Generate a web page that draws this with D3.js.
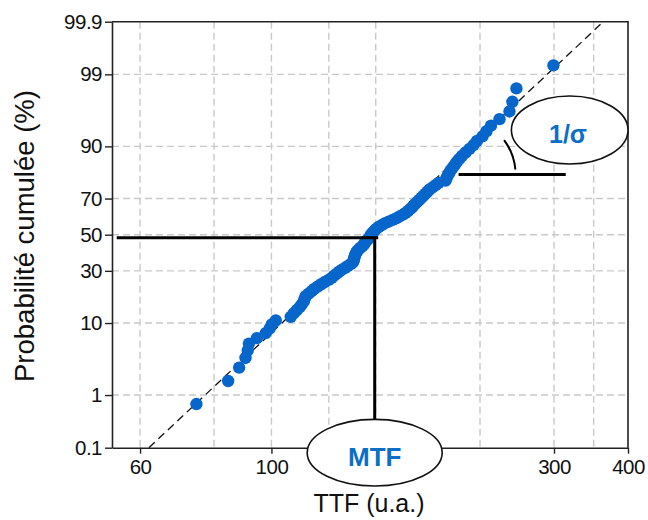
<!DOCTYPE html>
<html><head><meta charset="utf-8">
<script src="https://cdn.jsdelivr.net/npm/d3@7"></script>
<style>
html,body{margin:0;padding:0;background:#fff;}
svg{display:block;font-family:"Liberation Sans",Arial,Helvetica,sans-serif;}
</style></head>
<body><svg id="c" width="648" height="520"></svg>
<script>
// ---- data ----
const ttf = [74.7,84.5,88.2,90.4,91.2,91.6,94.5,97.8,99.3,100.1,
101.7,107.8,109.0,110.3,111.6,112.5,113.4,113.8,114.2,115.6,
116.9,118.1,119.7,121.3,123.0,124.9,126.4,127.6,128.9,130.1,
131.6,133.2,134.7,136.3,137.4,137.7,137.9,138.2,138.5,139.0,
139.5,140.4,141.4,142.6,143.4,143.9,144.8,145.6,146.5,147.0,
147.6,148.5,149.4,150.5,151.7,153.5,155.3,157.7,160.2,162.7,
164.6,166.8,168.5,170.1,171.4,172.8,173.8,175.1,176.5,177.9,
179.3,180.7,182.1,183.5,184.9,187.1,189.3,191.5,196.8,197.5,
198.3,199.5,200.6,202.2,203.8,205.4,207.4,209.8,212.7,216.0,
219.4,222.4,227.2,230.7,234.8,242.7,252.3,255.2,259.2,299.3];
const cumProb = [0.70,1.69,2.69,3.69,4.68,5.68,6.67,7.67,8.67,9.66,
10.66,11.65,12.65,13.65,14.64,15.64,16.63,17.63,18.63,19.62,
20.62,21.61,22.61,23.61,24.60,25.60,26.59,27.59,28.59,29.58,
30.58,31.57,32.57,33.57,34.56,35.56,36.55,37.55,38.55,39.54,
40.54,41.53,42.53,43.53,44.52,45.52,46.51,47.51,48.51,49.50,
50.50,51.49,52.49,53.49,54.48,55.48,56.47,57.47,58.47,59.46,
60.46,61.45,62.45,63.45,64.44,65.44,66.43,67.43,68.43,69.42,
70.42,71.41,72.41,73.41,74.40,75.40,76.39,77.39,78.39,79.38,
80.38,81.37,82.37,83.37,84.36,85.36,86.35,87.35,88.35,89.34,
90.34,91.33,92.33,93.33,94.32,95.32,96.31,97.31,98.31,99.30];
const fitTTF = [62.1, 363.4];
const fitProb = [0.1, 99.9];
const xTickValues = [60, 100, 300, 400];
const xGridValues = [60, 80, 100, 125, 150, 225, 300, 350];
const yTickValues = [0.1, 1, 10, 30, 50, 70, 90, 99, 99.9];
const yTickLabels = ["0.1", "1", "10", "30", "50", "70", "90", "99", "99.9"];
const yGridValues = [1, 10, 30, 50, 70, 90, 99];
const mtfTTF = 149.4, mtfProb = 48.2, mtfLineStartTTF = 54.8;
const slopeProb = 80.9, slopeTTF = [207, 314];
const xDomain = [53.8, 400];
const yDomainProb = [0.1, 99.9];

// ---- probit ----
function probit(p){
  const a=[-3.969683028665376e+01,2.209460984245205e+02,-2.759285104469687e+02,1.383577518672690e+02,-3.066479806614716e+01,2.506628277459239e+00];
  const b=[-5.447609879822406e+01,1.615858368580409e+02,-1.556989798598866e+02,6.680131188771972e+01,-1.328068155288572e+01];
  const c=[-7.784894002430293e-03,-3.223964580411365e-01,-2.400758276161862e+00,-2.549732539343734e+00,4.374664141464968e+00,2.938163982698783e+00];
  const d=[7.784695709041462e-03,3.224671290700398e-01,2.445134137142996e+00,3.754408661907416e+00];
  const pl=0.02425, ph=1-pl; let q,r;
  if(p<pl){q=Math.sqrt(-2*Math.log(p));return (((((c[0]*q+c[1])*q+c[2])*q+c[3])*q+c[4])*q+c[5])/((((d[0]*q+d[1])*q+d[2])*q+d[3])*q+1);}
  if(p<=ph){q=p-0.5;r=q*q;return (((((a[0]*r+a[1])*r+a[2])*r+a[3])*r+a[4])*r+a[5])*q/(((((b[0]*r+b[1])*r+b[2])*r+b[3])*r+b[4])*r+1);}
  q=Math.sqrt(-2*Math.log(1-p));return -(((((c[0]*q+c[1])*q+c[2])*q+c[3])*q+c[4])*q+c[5])/((((d[0]*q+d[1])*q+d[2])*q+d[3])*q+1);
}

const L=112, R=628, T=21.7, B=447.7;
const svg = d3.select("#c");
const x = d3.scaleLog().domain(xDomain).range([L, R]);
const y = d3.scaleLinear().domain(yDomainProb.map(p=>probit(p/100))).range([B, T]);
const yP = p => y(probit(p/100));
const blue = "#0766cb";

// grid
const grid = svg.append("g").attr("stroke","#c9c9c9").attr("stroke-width",1.4).attr("stroke-dasharray","7,4").attr("fill","none");
grid.selectAll("line.v").data(xGridValues).join("line").attr("class","v")
  .attr("x1",d=>x(d)).attr("x2",d=>x(d)).attr("y1",T).attr("y2",B);
grid.selectAll("line.h").data(yGridValues).join("line").attr("class","h")
  .attr("x1",L).attr("x2",R).attr("y1",d=>yP(d)).attr("y2",d=>yP(d));

// fit line
svg.append("line")
  .attr("x1",x(fitTTF[0])).attr("y1",yP(fitProb[0]))
  .attr("x2",x(fitTTF[1])).attr("y2",yP(fitProb[1]))
  .attr("stroke","#111").attr("stroke-width",1.3).attr("stroke-dasharray","8,5");

// points
svg.append("g").selectAll("circle").data(ttf).join("circle")
  .attr("cx",d=>x(d)).attr("cy",(d,i)=>yP(cumProb[i])).attr("r",6.2).attr("fill",blue);

// MTF lines
svg.append("line").attr("x1",x(mtfLineStartTTF)).attr("x2",x(mtfTTF)+3.5)
  .attr("y1",yP(mtfProb)).attr("y2",yP(mtfProb)).attr("stroke","#000").attr("stroke-width",3);

// axes
const yAxis = d3.axisLeft(y).tickValues(yTickValues.map(p=>probit(p/100)))
  .tickFormat((d,i)=>yTickLabels[i]).tickSize(7).tickSizeOuter(0);
const gy = svg.append("g").attr("transform",`translate(${L},0)`).call(yAxis);
const xAxis = d3.axisBottom(x).tickValues(xTickValues).tickFormat(d3.format("d")).tickSize(6).tickSizeOuter(0);
const gx = svg.append("g").attr("transform",`translate(0,${B})`).call(xAxis);
[gy,gx].forEach(g=>{
  g.select(".domain").attr("stroke","#222").attr("stroke-width",1.6);
  g.selectAll(".tick line").attr("stroke","#222").attr("stroke-width",1.4);
  g.selectAll(".tick text").attr("fill","#111").style("font-size","20.5px")
   .style("font-family","'Liberation Sans',Arial,sans-serif").style("letter-spacing","-0.5px");
});
gy.selectAll(".tick text").attr("x",-10);
gx.selectAll(".tick text").attr("y",12);
// top/right border
svg.append("path").attr("d",`M${L},${T}H${R}V${B}`).attr("fill","none").attr("stroke","#222").attr("stroke-width",1.6);

// vertical MTF line
const mtfCx = x(mtfTTF), mtfCy = 452.7, mtfRx = 67.5, mtfRy = 33.3;
svg.append("line").attr("x1",mtfCx).attr("x2",mtfCx).attr("y1",yP(mtfProb)).attr("y2",mtfCy-mtfRy)
  .attr("stroke","#000").attr("stroke-width",3);

// slope annotation
const sx0 = x(slopeTTF[0]), sy0 = yP(slopeProb);
svg.append("line").attr("x1",sx0).attr("x2",x(slopeTTF[1])).attr("y1",sy0).attr("y2",sy0)
  .attr("stroke","#000").attr("stroke-width",3);
const rA = 57, a0 = -37*Math.PI/180, a1 = -5*Math.PI/180;
svg.append("path")
  .attr("d",`M${sx0+rA*Math.cos(a0)},${sy0+rA*Math.sin(a0)} A${rA},${rA} 0 0 1 ${sx0+rA*Math.cos(a1)},${sy0+rA*Math.sin(a1)}`)
  .attr("fill","none").attr("stroke","#000").attr("stroke-width",2);

// ellipses
svg.append("ellipse").attr("cx",mtfCx).attr("cy",mtfCy).attr("rx",mtfRx).attr("ry",mtfRy)
  .attr("fill","#fff").attr("stroke","#111").attr("stroke-width",1.6);
svg.append("text").attr("x",mtfCx).attr("y",466).attr("text-anchor","middle")
  .attr("fill","#0b6fc6").style("font-size","26px").style("font-weight","bold").text("MTF");
svg.append("ellipse").attr("cx",569.7).attr("cy",130).attr("rx",58.3).attr("ry",34)
  .attr("fill","#fff").attr("stroke","#111").attr("stroke-width",1.6);
svg.append("text").attr("x",568).attr("y",142.7).attr("text-anchor","middle")
  .attr("fill","#0b6fc6").style("font-size","25px").style("font-weight","bold").text("1/σ");

// axis titles
svg.append("text").attr("x",369).attr("y",512).attr("text-anchor","middle")
  .attr("fill","#111").style("font-size","25px").text("TTF (u.a.)");
svg.append("text").attr("transform","translate(34,236) rotate(-90)").attr("text-anchor","middle")
  .attr("fill","#111").style("font-size","27.5px").text("Probabilité cumulée (%)");
</script></body></html>
